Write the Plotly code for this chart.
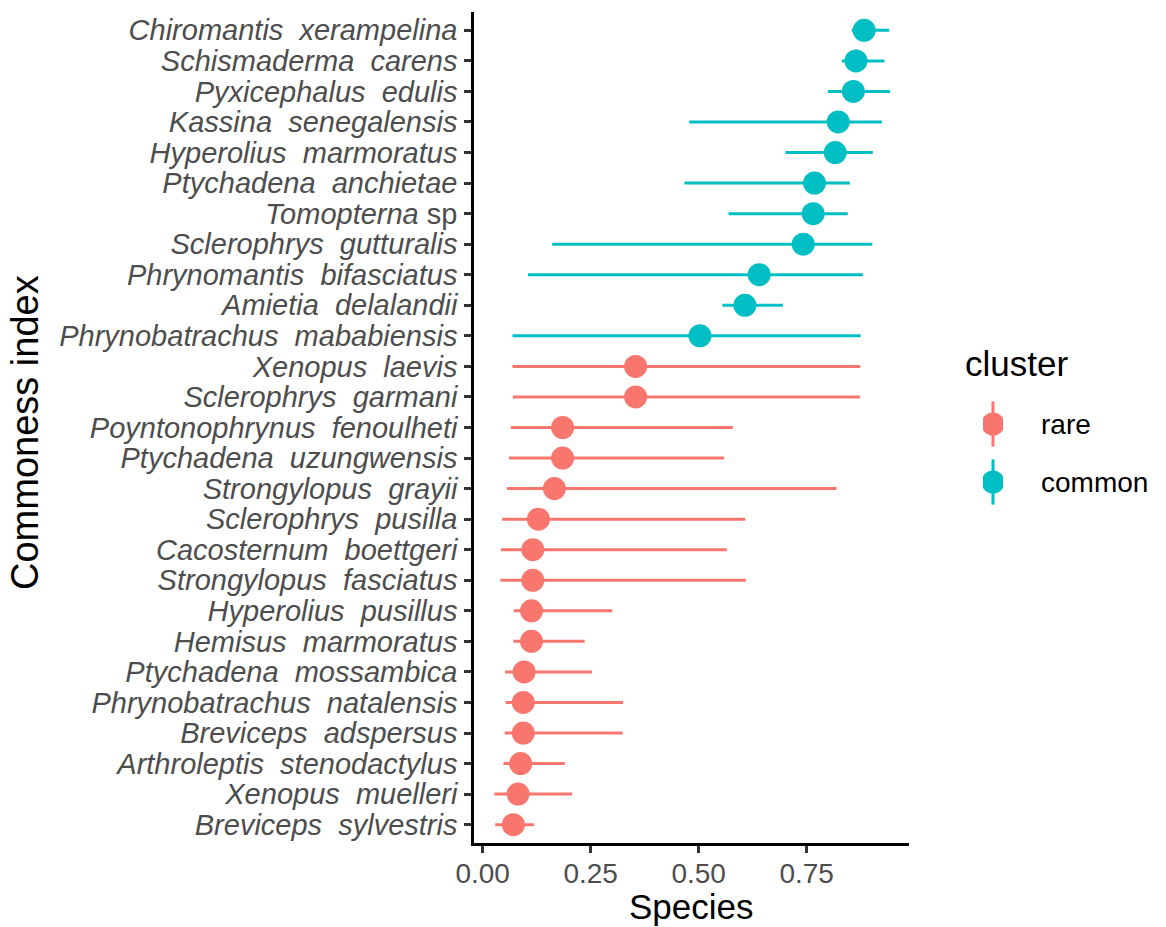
import plotly.graph_objects as go

# ---- data (top to bottom as displayed) ----
genus = ["Chiromantis", "Schismaderma", "Pyxicephalus", "Kassina", "Hyperolius",
         "Ptychadena", "Tomopterna", "Sclerophrys", "Phrynomantis", "Amietia",
         "Phrynobatrachus", "Xenopus", "Sclerophrys", "Poyntonophrynus", "Ptychadena",
         "Strongylopus", "Sclerophrys", "Cacosternum", "Strongylopus", "Hyperolius",
         "Hemisus", "Ptychadena", "Phrynobatrachus", "Breviceps", "Arthroleptis",
         "Xenopus", "Breviceps"]
epithet = ["xerampelina", "carens", "edulis", "senegalensis", "marmoratus",
           "anchietae", "sp", "gutturalis", "bifasciatus", "delalandii",
           "mababiensis", "laevis", "garmani", "fenoulheti", "uzungwensis",
           "grayii", "pusilla", "boettgeri", "fasciatus", "pusillus",
           "marmoratus", "mossambica", "natalensis", "adspersus", "stenodactylus",
           "muelleri", "sylvestris"]
estimate = [0.883, 0.864, 0.858, 0.823, 0.816, 0.768, 0.765, 0.742, 0.640, 0.607,
            0.503, 0.354, 0.354, 0.185, 0.185, 0.166, 0.129, 0.116, 0.116, 0.113,
            0.113, 0.096, 0.094, 0.094, 0.088, 0.082, 0.071]
lower = [0.854, 0.831, 0.799, 0.478, 0.701, 0.467, 0.569, 0.161, 0.105, 0.555,
         0.069, 0.069, 0.070, 0.065, 0.061, 0.056, 0.045, 0.042, 0.041, 0.072,
         0.071, 0.052, 0.053, 0.051, 0.048, 0.027, 0.029]
upper = [0.941, 0.930, 0.943, 0.924, 0.903, 0.850, 0.845, 0.902, 0.880, 0.695,
         0.875, 0.874, 0.873, 0.579, 0.559, 0.819, 0.608, 0.565, 0.609, 0.300,
         0.236, 0.253, 0.325, 0.324, 0.190, 0.207, 0.119]
cluster = ["common"] * 11 + ["rare"] * 16
cluster_levels = ["rare", "common"]
colors = {"rare": "#F8766D", "common": "#00BFC4"}
x_ticks = [0.0, 0.25, 0.5, 0.75]

species = [g + " " + e for g, e in zip(genus, epithet)]
labels = []
for g, e in zip(genus, epithet):
    if e == "sp":
        labels.append("<i>" + g + "</i> sp")
    else:
        labels.append("<i>" + g + "</i>\u00a0 <i>" + e + "</i>")

# ---- geometry helpers (pixel -> paper) ----
W, H = 1166, 927
ML, MR, MT, MB = 474, 10, 12, 84
PW, PH = W - ML - MR, H - MT - MB
plot_right = 909
def px(x):
    return (x - ML) / PW
def py(y):
    return (H - MB - y) / PH

FONT = "Liberation Sans, Arial, sans-serif"

fig = go.Figure()
for lvl in cluster_levels:
    idx = [i for i, c in enumerate(cluster) if c == lvl]
    fig.add_trace(go.Scatter(
        x=[estimate[i] for i in idx],
        y=[species[i] for i in idx],
        mode="markers",
        name=lvl,
        marker=dict(color=colors[lvl], size=23, line=dict(width=0)),
        error_x=dict(type="data", symmetric=False,
                     array=[upper[i] - estimate[i] for i in idx],
                     arrayminus=[estimate[i] - lower[i] for i in idx],
                     color=colors[lvl], thickness=3, width=0),
        showlegend=False,
        xaxis="x", yaxis="y",
    ))

# legend glyphs (pointrange key) drawn on a small helper axis
# helper y positions: rare on top (1), common below (0)
for k, lvl in enumerate(cluster_levels):
    fig.add_trace(go.Scatter(
        x=[0], y=[len(cluster_levels) - 1 - k], mode="markers",
        marker=dict(color=colors[lvl], size=23, line=dict(width=0)),
        error_y=dict(type="constant", value=0.39, color=colors[lvl], thickness=3, width=0),
        showlegend=False, xaxis="x2", yaxis="y2", hoverinfo="skip",
    ))

cat_bottom_to_top = species[::-1]
lab_bottom_to_top = labels[::-1]

fig.update_layout(
    width=W, height=H,
    margin=dict(l=ML, r=MR, t=MT, b=MB),
    paper_bgcolor="white", plot_bgcolor="white",
    font=dict(family=FONT),
    xaxis=dict(
        domain=[0, px(plot_right)],
        range=[-0.0201, 0.9868],
        tickvals=x_ticks, ticktext=["%.2f" % v for v in x_ticks],
        tickfont=dict(size=28, color="#4D4D4D", family=FONT),
        ticks="outside", ticklen=7, tickwidth=2.5, tickcolor="#333333",
        ticklabelstandoff=-3,
        showline=True, linecolor="black", linewidth=2.5,
        showgrid=False, zeroline=False, anchor="y",
    ),
    yaxis=dict(
        domain=[0, 1],
        type="category",
        categoryorder="array", categoryarray=cat_bottom_to_top,
        tickvals=cat_bottom_to_top, ticktext=lab_bottom_to_top,
        range=[-0.6, 26.6],
        tickfont=dict(size=29, color="#4D4D4D", family=FONT),
        ticks="outside", ticklen=7, tickwidth=2.5, tickcolor="#333333",
        ticklabelstandoff=1,
        showline=True, linecolor="black", linewidth=2.5,
        showgrid=False, zeroline=False, anchor="x",
    ),
    xaxis2=dict(domain=[px(983), px(1003)], range=[-1, 1], visible=False,
                anchor="y2", fixedrange=True),
    yaxis2=dict(domain=[py(511), py(395)], range=[-0.5, 1.5], visible=False,
                anchor="x2", fixedrange=True),
    annotations=[
        dict(text="Species", xref="paper", yref="paper",
             x=px((474 + plot_right) / 2), y=py(906), xanchor="center", yanchor="middle",
             showarrow=False, font=dict(size=35, color="black", family=FONT)),
        dict(text="Commoness index", xref="paper", yref="paper",
             x=px(25), y=py(433), xanchor="center", yanchor="middle", textangle=-90,
             showarrow=False, font=dict(size=38, color="black", family=FONT)),
        dict(text="cluster", xref="paper", yref="paper",
             x=px(963), y=py(363), xanchor="left", yanchor="middle",
             showarrow=False, font=dict(size=35, color="black", family=FONT)),
        dict(text="rare", xref="paper", yref="paper",
             x=px(1039), y=py(424), xanchor="left", yanchor="middle",
             showarrow=False, font=dict(size=28, color="black", family=FONT)),
        dict(text="common", xref="paper", yref="paper",
             x=px(1039), y=py(482), xanchor="left", yanchor="middle",
             showarrow=False, font=dict(size=28, color="black", family=FONT)),
    ],
)

fig.write_html("out.html")
